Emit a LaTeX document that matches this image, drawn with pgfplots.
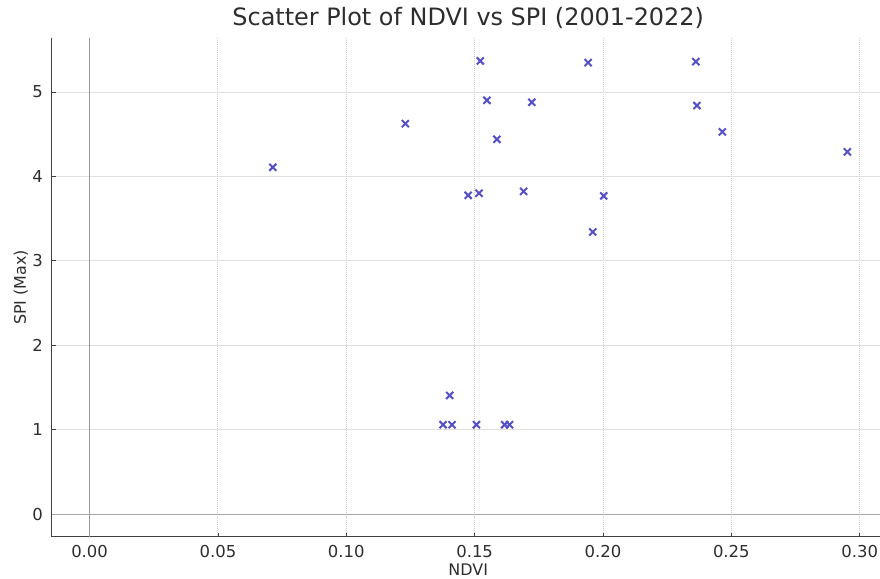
\documentclass[border=0pt]{standalone}
\usepackage{fontspec}
\setmainfont{DejaVu Sans}
\usepackage{pgfplots}
\pgfplotsset{compat=1.18}
\definecolor{mk}{RGB}{85,80,200}
\definecolor{txt}{RGB}{45,45,45}
\begin{document}
\begin{tikzpicture}
\useasboundingbox (-51.7bp,-42.3bp) rectangle (828.3bp,536.7bp);
\begin{axis}[
  at={(0,0)}, anchor=south west,
  scale only axis, width=833bp, height=498.7bp,
  xmin=-0.01475, xmax=0.30975, ymin=-0.2685, ymax=5.6385,
  axis x line*=bottom, axis y line*=left,
  axis line style={-, black!75, line width=1.1bp},
  xtick={0,0.05,0.1,0.15,0.2,0.25,0.3},
  ytick={0,1,2,3,4,5},
  xticklabel style={/pgf/number format/fixed, /pgf/number format/fixed zerofill, /pgf/number format/precision=2},
  /pgf/number format/assume math mode=true,
  tick align=inside, major tick length=4bp,
  tick style={black!75, line width=0.8bp},
  grid=major,
  x grid style={gray!40, dash pattern=on 1bp off 1bp, line width=0.9bp},
  y grid style={gray!25, line width=0.8bp},
  tick label style={font=\fontsize{16.5}{18}\selectfont, text=txt},
  x tick label style={anchor=base, yshift=-20.3bp},
  y tick label style={anchor=east, inner sep=0pt, xshift=-8.7bp},
  xlabel={NDVI}, ylabel={SPI (Max)},
  label style={font=\fontsize{16}{18}\selectfont, text=txt},
  xlabel style={at={(axis description cs:0.5,0)}, anchor=base, inner sep=0pt, yshift=-39bp},
  ylabel style={at={(axis description cs:-0.0369,0.5)}, anchor=center},
  title={Scatter Plot of NDVI vs SPI (2001-2022)},
  title style={at={(axis description cs:0.5,1)}, anchor=base, yshift=6.5bp, font=\fontsize{24}{26}\selectfont, text=txt},
  clip=false,
]
\draw[black!40, line width=1bp] (axis cs:0,-0.2685) -- (axis cs:0,5.6385);
\draw[black!35, line width=1bp] (axis cs:-0.01475,0) -- (axis cs:0.30975,0);
\addplot[only marks, mark=x, mark size=5bp, mark options={line width=2bp}, color=mk] coordinates {
(0.0714,4.107)
(0.1230,4.624)
(0.1522,5.367)
(0.1942,5.347)
(0.2362,5.359)
(0.1548,4.900)
(0.1723,4.877)
(0.2366,4.838)
(0.1587,4.438)
(0.2465,4.526)
(0.2952,4.289)
(0.1475,3.775)
(0.1517,3.799)
(0.1691,3.822)
(0.2003,3.768)
(0.1960,3.341)
(0.1403,1.405)
(0.1377,1.058)
(0.1412,1.058)
(0.1507,1.058)
(0.1617,1.058)
(0.1636,1.058)
};
\end{axis}
\end{tikzpicture}
\end{document}
